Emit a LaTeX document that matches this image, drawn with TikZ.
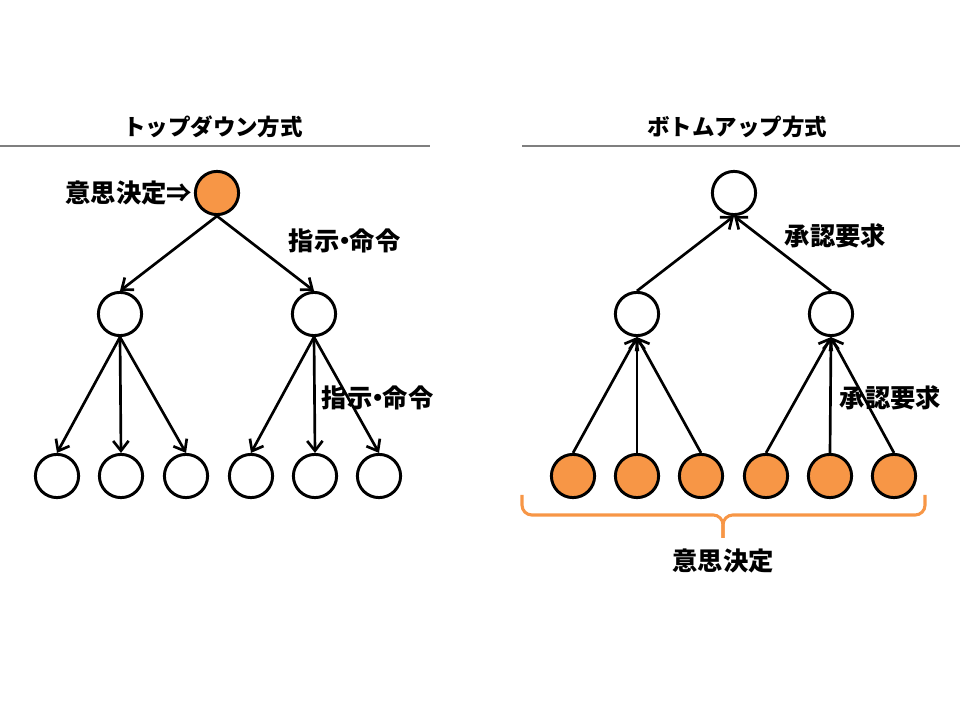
\documentclass[tikz,border=0pt]{standalone}
\usepackage{fontspec}
\newfontfamily\jp{Noto Sans CJK JP}
\usepackage{xcolor}
\usetikzlibrary{arrows.meta}
\definecolor{decisionorange}{HTML}{F79646}
\definecolor{rulegray}{HTML}{7F7F7F}

\begin{document}
\begin{tikzpicture}[x=0.025cm, y=-0.025cm,
    member/.style={circle, draw=black, line width=2.1pt, fill=white,
      minimum size=1.08cm, inner sep=0pt},
    decider/.style={member, fill=decisionorange},
    order/.style={-{Straight Barb[length=7pt, width=11pt, line width=1.9pt]},
      line width=1.9pt},
    title/.style={font=\jp\bfseries\fontsize{16}{19}\selectfont},
    label/.style={font=\jp\bfseries\fontsize{18}{21}\selectfont}]
  \useasboundingbox (0,0) rectangle (960,720);
  % Titles and rules
  \node[title] (tdtitle) at (213,127) {トップダウン方式};
  \node[title] (butitle) at (737,127) {ボトムアップ方式};
  \draw[rulegray, line width=1pt] (0,146) -- (430,146);
  \draw[rulegray, line width=1pt] (522,146) -- (960,146);
  % Top-down tree
  \node[decider] (tdtop) at (217,193) {};
  \node[member] (tdl) at (120,314) {};
  \node[member] (tdr) at (314,314) {};
  \node[member] (tda) at (57,476) {};
  \node[member] (tdb) at (121,476) {};
  \node[member] (tdc) at (186,476) {};
  \node[member] (tdd) at (251,476) {};
  \node[member] (tde) at (315,476) {};
  \node[member] (tdf) at (379,476) {};
  \draw[order] (tdtop.south) -- (tdl.north);
  \draw[order] (tdtop.south) -- (tdr.north);
  \draw[order] (tdl.south) -- (tda.north);
  \draw[order] (tdl.south) -- (tdb.north);
  \draw[order] (tdl.south) -- (tdc.north);
  \draw[order] (tdr.south) -- (tdd.north);
  \draw[order] (tdr.south) -- (tde.north);
  \draw[order] (tdr.south) -- (tdf.north);
  \node[label, anchor=east, inner sep=1pt] (tddecide) at (tdtop.west) {意思決定⇒};
  \node[label, anchor=west] (tdorder1) at (284,241) {指示\kern-0.3em・\kern-0.3em命令};
  \node[label, anchor=west] (tdorder2) at (317,398) {指示\kern-0.3em・\kern-0.3em命令};
  % Bottom-up tree
  \node[member] (butop) at (734,193) {};
  \node[member] (bul) at (637,314) {};
  \node[member] (bur) at (831,314) {};
  \node[decider] (bua) at (573,476) {};
  \node[decider] (bub) at (637,476) {};
  \node[decider] (buc) at (701,476) {};
  \node[decider] (bud) at (766,476) {};
  \node[decider] (bue) at (830,476) {};
  \node[decider] (buf) at (894,476) {};
  \draw[order] (bul.north) -- (butop.south);
  \draw[order] (bur.north) -- (butop.south);
  \draw[order] (bua.north) -- (bul.south);
  \draw[order] (bub.north) -- (bul.south);
  \draw[order] (buc.north) -- (bul.south);
  \draw[order] (bud.north) -- (bur.south);
  \draw[order] (bue.north) -- (bur.south);
  \draw[order] (buf.north) -- (bur.south);
  \node[label, anchor=west] (buask1) at (780,236) {承認要求};
  \node[label, anchor=west] (buask2) at (835,398) {承認要求};
  % Brace under the deciders
  \coordinate (braceleft) at (522,495);
  \coordinate (braceright) at (925,495);
  \coordinate (bracetip) at (723,538);
  \draw[decisionorange, line width=2.2pt, rounded corners=7]
    (braceleft) -- (522,515) -- (723,515) -- (bracetip);
  \draw[decisionorange, line width=2.2pt, rounded corners=7]
    (braceright) -- (925,515) -- (723,515) -- (bracetip);
  \node[label] (budecide) at (723,561) {意思決定};
\end{tikzpicture}
\end{document}
